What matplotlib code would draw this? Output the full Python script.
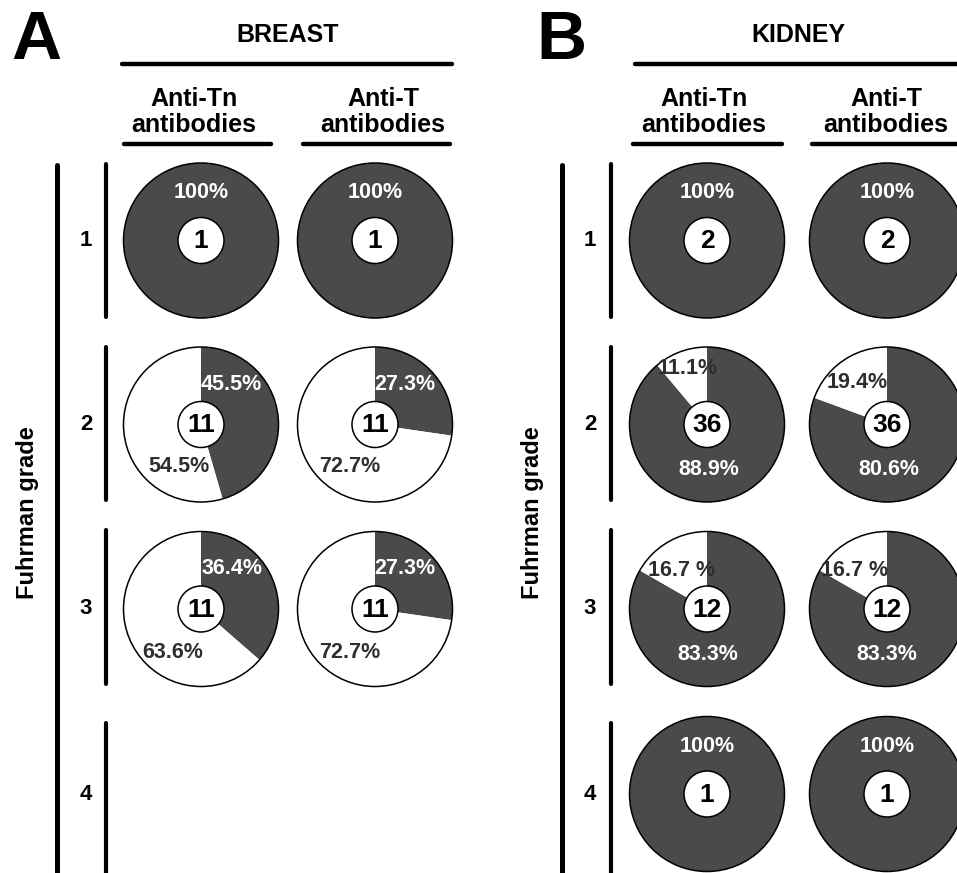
import matplotlib.pyplot as plt
from matplotlib.patches import Circle

plt.rcParams['font.family'] = ['Liberation Sans', 'DejaVu Sans']
plt.rcParams['font.weight'] = 'bold'

# Data
grades = ["1", "2", "3", "4"]
antibodies = ["Anti-Tn\nantibodies", "Anti-T\nantibodies"]

# percent of patients with antibodies (dark wedge), None = no patients
breast_tn = [100, 45.5, 36.4, None]
breast_t = [100, 27.3, 27.3, None]
breast_n = [1, 11, 11, None]
kidney_tn = [100, 88.9, 83.3, 100]
kidney_t = [100, 80.6, 83.3, 100]
kidney_n = [2, 36, 12, 1]

# labels as printed (dark wedge, white wedge)
breast_tn_lbl = [["100%"], ["45.5%", "54.5%"], ["36.4%", "63.6%"], None]
breast_t_lbl = [["100%"], ["27.3%", "72.7%"], ["27.3%", "72.7%"], None]
kidney_tn_lbl = [["100%"], ["88.9%", "11.1%"], ["83.3%", "16.7 %"], ["100%"]]
kidney_t_lbl = [["100%"], ["80.6%", "19.4%"], ["83.3%", "16.7 %"], ["100%"]]

# Layout (pixels, y measured from top)
W, H = 957, 873
DARK = '#4a4a4a'
R_OUT, R_IN = 77.5, 23
row_y = [240.5, 424.5, 609, 794]
bar_span = [(164, 317), (347, 500), (530, 684), (723, 880)]

# label offsets from pie centre (dark label, white label)
offs = {
    ('A', 0): [[(0, -48)], [(30, -40), (-22, 42)], [(31, -41), (-28, 44)], None],
    ('A', 1): [[(0, -48)], [(30, -40), (-25, 42)], [(30, -41), (-25, 44)], None],
    ('B', 0): [[(0, -48)], [(2, 45), (-19, -56)], [(1, 46), (-25, -38)], [(0, -48)]],
    ('B', 1): [[(0, -48)], [(2, 45), (-30, -42)], [(0, 46), (-32, -38)], [(0, -48)]],
}

panels = [
    dict(key='A', tissue="BREAST", vals=[breast_tn, breast_t], n=breast_n,
         lbl=[breast_tn_lbl, breast_t_lbl], col_x=[201, 375], head_x=[194, 383],
         sub_lines=[(124, 271), (303, 450)], top_line=(122, 452), tissue_x=288,
         letter_x=36, long_x=57, bar_x=106, grade_x=86, axis_x=28),
    dict(key='B', tissue="KIDNEY", vals=[kidney_tn, kidney_t], n=kidney_n,
         lbl=[kidney_tn_lbl, kidney_t_lbl], col_x=[707, 887], head_x=[704, 886],
         sub_lines=[(633, 782), (812, 975)], top_line=(635, 975), tissue_x=798,
         letter_x=561, long_x=562, bar_x=611, grade_x=590, axis_x=533),
]


def yy(py):
    return H - py


fig = plt.figure(figsize=(W / 100, H / 100), dpi=100)
ax = fig.add_axes([0, 0, 1, 1])

for p in panels:
    # panel letter and headers
    ax.text(p['letter_x'], yy(41), p['key'], fontsize=50, ha='center', va='center')
    ax.text(p['tissue_x'], yy(35), p['tissue'], fontsize=18, ha='center', va='center')
    ax.plot(p['top_line'], [yy(64)] * 2, color='black', lw=3.2, solid_capstyle='round')
    for c in range(2):
        ax.text(p['head_x'][c], yy(112), antibodies[c], fontsize=18, ha='center',
                va='center', linespacing=1.12)
        ax.plot(p['sub_lines'][c], [yy(144)] * 2, color='black', lw=3.2,
                solid_capstyle='round')

    # grade axis
    ax.plot([p['long_x']] * 2, [yy(165), yy(880)], color='black', lw=3.6,
            solid_capstyle='round')
    ax.text(p['axis_x'], yy(513), "Fuhrman grade", fontsize=17, rotation=90,
            ha='center', va='center')
    for r, g in enumerate(grades):
        y0, y1 = bar_span[r]
        ax.plot([p['bar_x']] * 2, [yy(y0), yy(y1)], color='black', lw=3.0,
                solid_capstyle='round')
        ax.text(p['grade_x'], yy(row_y[r]), g, fontsize=16, ha='center', va='center')

    # pies
    for c in range(2):
        for r in range(4):
            v = p['vals'][c][r]
            if v is None:
                continue
            cx, cy = p['col_x'][c], yy(row_y[r])
            if v >= 100:
                sizes, cols = [v], [DARK]
            else:
                sizes, cols = [v, 100 - v], [DARK, 'white']
            ax.pie(sizes, colors=cols, startangle=90, counterclock=False,
                   center=(cx, cy), radius=R_OUT, wedgeprops=dict(linewidth=0))
            ax.add_patch(Circle((cx, cy), R_OUT, fill=False, ec='black', lw=1.1, zorder=3))
            ax.add_patch(Circle((cx, cy), R_IN, fc='white', ec='black', lw=1.1, zorder=4))
            ax.text(cx, cy - 1, str(p['n'][r]), fontsize=19, ha='center', va='center',
                    zorder=5)
            for i, t in enumerate(p['lbl'][c][r]):
                dx, dy = offs[(p['key'], c)][r][i]
                ax.text(cx + dx, cy - dy, t, fontsize=15.5, ha='center', va='center',
                        color='white' if i == 0 else '#2e2e2e', zorder=5)

ax.set_xlim(0, W)
ax.set_ylim(0, H)
ax.set_aspect('equal')
ax.axis('off')

fig.savefig('out.png', dpi=100)
